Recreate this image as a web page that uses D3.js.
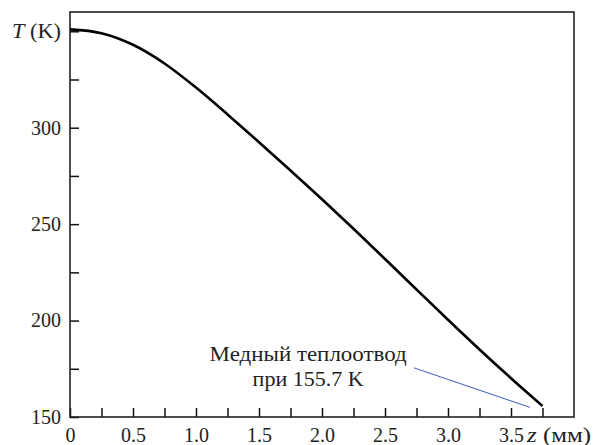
<!DOCTYPE html>
<html>
<head>
<meta charset="utf-8">
<script src="https://cdn.jsdelivr.net/npm/d3@7"></script>
<style>
  html, body { margin: 0; padding: 0; background: #fff; }
  svg { display: block; }
</style>
</head>
<body>
<div class="chart-container"></div>
<script>
//! DATA
const zValues = [0, 0.25, 0.5, 0.75, 1.0, 1.25, 1.5, 1.75, 2.0, 2.25, 2.5, 2.75, 3.0, 3.25, 3.5, 3.75];
const tempValues = [351.0, 349.0, 343.0, 333.3, 320.8, 306.9, 292.5, 277.8, 262.9, 247.6, 231.9, 216.1, 200.4, 185.0, 170.1, 155.7];
const xTicks = [0, 0.25, 0.5, 0.75, 1.0, 1.25, 1.5, 1.75, 2.0, 2.25, 2.5, 2.75, 3.0, 3.25, 3.5, 3.75];
const xLabels = [0, 0.5, 1.0, 1.5, 2.0, 2.5, 3.0, 3.5];
const yTicks = [150, 175, 200, 225, 250, 275, 300, 325, 350];
const yLabels = [150, 200, 250, 300];
const noteLines = ['Медный теплоотвод', 'при 155.7 K'];

//! CONSTS
const width = 593;
const height = 445;
const margin = { top: 12, right: 19, bottom: 28, left: 70 };
const fontSize = 20;
const font = 'Liberation Serif';
const ink = '#222';

//! SVG
const svg =
  d3.select('.chart-container')
    .append('svg')
    .attr('width', width)
    .attr('height', height);

//! SCALES
const xScale =
  d3.scaleLinear()
    .domain([0, 4])
    .range([margin.left, width - margin.right]);

const yScale =
  d3.scaleLinear()
    .domain([150, 360])
    .range([height - margin.bottom, margin.top]);

//! AXES
const xAxis =
  d3.axisBottom(xScale)
    .tickValues(xTicks)
    .tickSizeInner(-9)
    .tickSizeOuter(0)
    .tickPadding(11)
    .tickFormat(d => xLabels.includes(d) ? (d === 0 ? '0' : d3.format('.1f')(d)) : '');

const yAxis =
  d3.axisLeft(yScale)
    .tickValues(yTicks)
    .tickSizeInner(-9)
    .tickSizeOuter(0)
    .tickPadding(9)
    .tickFormat(d => yLabels.includes(d) ? d : '');

const gx = svg.append('g')
  .attr('transform', `translate(0,${height - margin.bottom})`)
  .call(xAxis);

const gy = svg.append('g')
  .attr('transform', `translate(${margin.left},0)`)
  .call(yAxis);

[gx, gy].forEach(g => {
  g.attr('font-family', font).attr('font-size', fontSize);
  g.select('.domain').remove();
  g.selectAll('.tick line').attr('stroke', '#111').attr('stroke-width', 1.5);
  g.selectAll('.tick text').attr('fill', ink);
});

// frame
svg.append('rect')
  .attr('x', xScale(0))
  .attr('y', yScale(360))
  .attr('width', xScale(4) - xScale(0))
  .attr('height', yScale(150) - yScale(360))
  .attr('fill', 'none')
  .attr('stroke', ink)
  .attr('stroke-width', 1.6);

// axis titles
const yTitle = svg.append('text')
  .attr('x', 12)
  .attr('y', yScale(350))
  .attr('dy', '0.32em')
  .attr('font-family', font)
  .attr('font-size', fontSize)
  .attr('fill', ink)
  .attr('textLength', 49)
  .attr('lengthAdjust', 'spacingAndGlyphs');
yTitle.append('tspan').attr('font-style', 'italic').text('T');
yTitle.append('tspan').text(' (K)');

const xTitle = svg.append('text')
  .attr('x', 527)
  .attr('y', 442)
  .attr('font-family', font)
  .attr('font-size', fontSize)
  .attr('fill', ink)
  .attr('textLength', 64)
  .attr('lengthAdjust', 'spacingAndGlyphs');
xTitle.append('tspan').attr('font-style', 'italic').text('z');
xTitle.append('tspan').text(' (мм)');

//! LINE
const points = zValues.map((z, i) => [z, tempValues[i]]);

const line = d3.line()
  .x(d => xScale(d[0]))
  .y(d => yScale(d[1]))
  .curve(d3.curveMonotoneX);

svg.append('path')
  .datum(points)
  .attr('d', line)
  .attr('fill', 'none')
  .attr('stroke', '#000')
  .attr('stroke-width', 2.6);

//! ANNOTATION
const noteWidths = [197, 111];
noteLines.forEach((t, i) => {
  svg.append('text')
    .attr('x', xScale(1.89))
    .attr('y', yScale(178.8) + i * 25)
    .attr('text-anchor', 'middle')
    .attr('font-family', font)
    .attr('font-size', fontSize)
    .attr('fill', ink)
    .attr('textLength', noteWidths[i])
    .attr('lengthAdjust', 'spacingAndGlyphs')
    .text(t);
});

svg.append('line')
  .attr('x1', xScale(2.73))
  .attr('y1', yScale(175.5))
  .attr('x2', xScale(3.65))
  .attr('y2', yScale(155))
  .attr('stroke', '#3a5cc4')
  .attr('stroke-width', 1);
</script>
</body>
</html>
